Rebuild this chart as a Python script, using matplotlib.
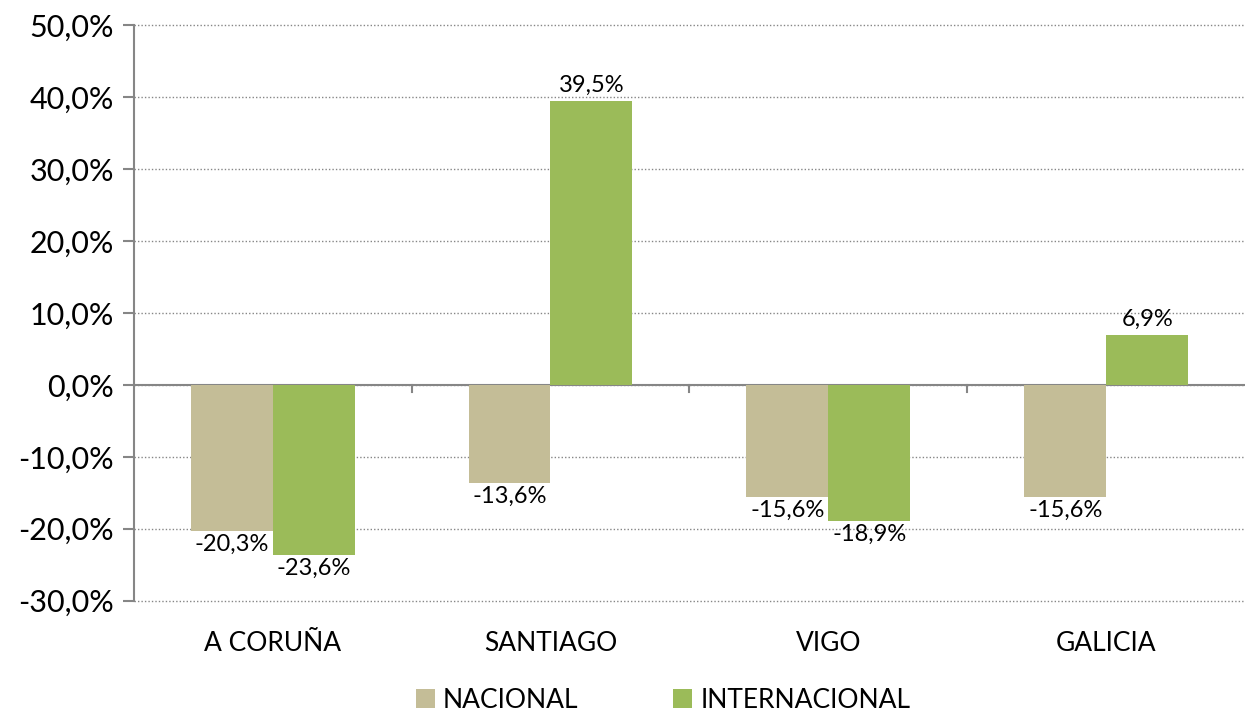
import numpy as np
import matplotlib.pyplot as plt
from matplotlib.ticker import FuncFormatter

plt.rcParams['font.family'] = ['Lato', 'DejaVu Sans']

categorias = ['A CORUÑA', 'SANTIAGO', 'VIGO', 'GALICIA']
nacional = [-20.3, -13.6, -15.6, -15.6]
internacional = [-23.6, 39.5, -18.9, 6.9]
series = ['NACIONAL', 'INTERNACIONAL']
colores = ['#C4BD97', '#9BBB59']

fig = plt.figure(figsize=(12.49, 7.28), dpi=100)
ax = fig.add_axes([0.107, 0.175, 0.89, 0.79])

x = np.arange(len(categorias))
w = 0.295
b1 = ax.bar(x - w / 2, nacional, w, color=colores[0], label=series[0], zorder=3)
b2 = ax.bar(x + w / 2, internacional, w, color=colores[1], label=series[1], zorder=3)

def fmt(v):
    return f'{v:.1f}%'.replace('.', ',')

for bars, vals in ((b1, nacional), (b2, internacional)):
    for r, v in zip(bars, vals):
        cx = r.get_x() + r.get_width() / 2
        if v >= 0:
            ax.annotate(fmt(v), (cx, v), xytext=(0, 4), textcoords='offset points',
                        ha='center', va='bottom', fontsize=17)
        else:
            ax.annotate(fmt(v), (cx, v), xytext=(0, -2), textcoords='offset points',
                        ha='center', va='top', fontsize=17)

ax.set_ylim(-30, 50)
ax.set_xlim(-0.5, len(categorias) - 0.5)
ax.set_yticks(np.arange(-30, 51, 10))
ax.yaxis.set_major_formatter(FuncFormatter(lambda v, p: fmt(v)))
ax.tick_params(axis='y', labelsize=22, length=8, color='#868686', width=1.5, pad=6)
ax.set_xticks(x)
ax.set_xticklabels(categorias, fontsize=19)
ax.tick_params(axis='x', length=0, pad=22)

ax.grid(axis='y', linestyle=(0, (1, 1.5)), color='#868686', linewidth=1, zorder=0)
for gl in ax.get_ygridlines():
    gl.set_clip_on(False)
for s in ('top', 'right', 'bottom'):
    ax.spines[s].set_visible(False)
ax.spines['left'].set_color('#868686')
ax.spines['left'].set_linewidth(1.5)
ax.axhline(0, color='#868686', linewidth=1.5, zorder=2)
for xb in np.arange(0.5, len(categorias) - 0.5, 1):
    ax.plot([xb, xb], [0, -1.0], color='#868686', linewidth=1.5, zorder=2)

fig.legend(loc='lower center', bbox_to_anchor=(0.531, -0.012), ncol=2, frameon=False,
           fontsize=19, handlelength=0.72, handleheight=0.72, columnspacing=3.6, handletextpad=0.3)

fig.savefig('out.png', dpi=100)
